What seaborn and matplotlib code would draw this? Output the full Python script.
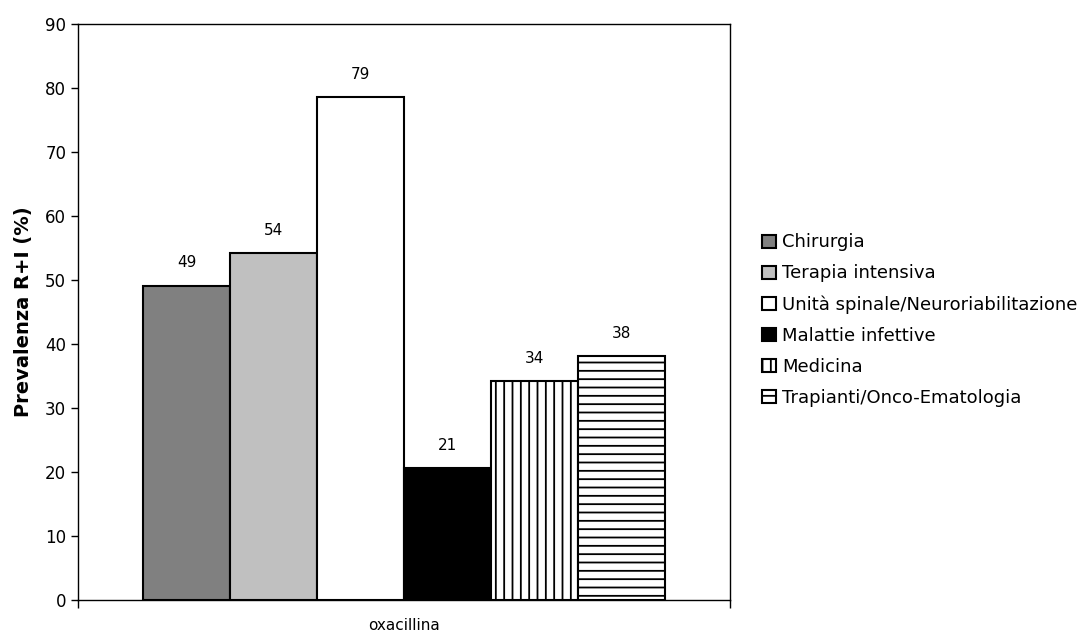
import matplotlib
matplotlib.use("Agg")
import matplotlib.pyplot as plt
from matplotlib.patches import Patch
import seaborn as sns
import pandas as pd

# Data
categories = ["oxacillina"]
reparti = ["Chirurgia", "Terapia intensiva", "Unità spinale/Neuroriabilitazione",
           "Malattie infettive", "Medicina", "Trapianti/Onco-Ematologia"]
values = [49.1, 54.2, 78.6, 20.6, 34.2, 38.1]
colors = ["#808080", "#C0C0C0", "#FFFFFF", "#000000", "#FFFFFF", "#FFFFFF"]
hatches = ["", "", "", "", "||", "--"]
yticks = list(range(0, 91, 10))

sns.set_style("ticks")
plt.rcParams["font.family"] = ["DejaVu Sans"]
plt.rcParams["hatch.linewidth"] = 1.3
plt.rcParams["text.color"] = "black"
plt.rcParams["axes.labelcolor"] = "black"
plt.rcParams["xtick.color"] = "black"
plt.rcParams["ytick.color"] = "black"

df = pd.DataFrame({"farmaco": categories * len(reparti), "reparto": reparti, "valore": values})

fig = plt.figure(figsize=(10.88, 6.34), dpi=100)
ax = fig.add_axes([78 / 1088, 34 / 634, 652 / 1088, 576 / 634])

sns.barplot(data=df, x="farmaco", y="valore", hue="reparto", hue_order=reparti,
            palette=dict(zip(reparti, colors)), saturation=1, width=0.8,
            edgecolor="black", linewidth=1.5, ax=ax, legend=False)

for cont, h in zip(ax.containers, hatches):
    for p in cont:
        p.set_hatch(h)
        p.set_edgecolor("black")
    ax.bar_label(cont, fmt="%.0f", padding=11, fontsize=11, color="black")

ax.set_ylim(0, 90)
ax.set_yticks(yticks)
ax.set_xlim(-0.5, 0.5)
ax.set_xlabel("")
ax.set_ylabel("Prevalenza R+I (%)", fontsize=14, fontweight="bold", labelpad=9, color="black")
ax.tick_params(axis="y", labelsize=12, length=5, width=1, direction="out", colors="black")
ax.tick_params(axis="x", which="major", length=0, labelsize=11, pad=13, colors="black")
ax.set_xticks([-0.5, 0.5], minor=True)
ax.tick_params(axis="x", which="minor", length=6, width=1, direction="out", colors="black")
for s in ax.spines.values():
    s.set_visible(True)
    s.set_color("black")
    s.set_linewidth(1)

handles = [Patch(facecolor=c, edgecolor="black", hatch=h, linewidth=1.5, label=r)
           for r, c, h in zip(reparti, colors, hatches)]
fig.legend(handles=handles, loc="center left", bbox_to_anchor=(762 / 1088, 0.495),
           frameon=False, fontsize=13, handlelength=0.75, handleheight=0.75,
           handletextpad=0.35, labelspacing=0.72, borderpad=0, borderaxespad=0,
           labelcolor="black")

fig.savefig("out.png", dpi=100)
